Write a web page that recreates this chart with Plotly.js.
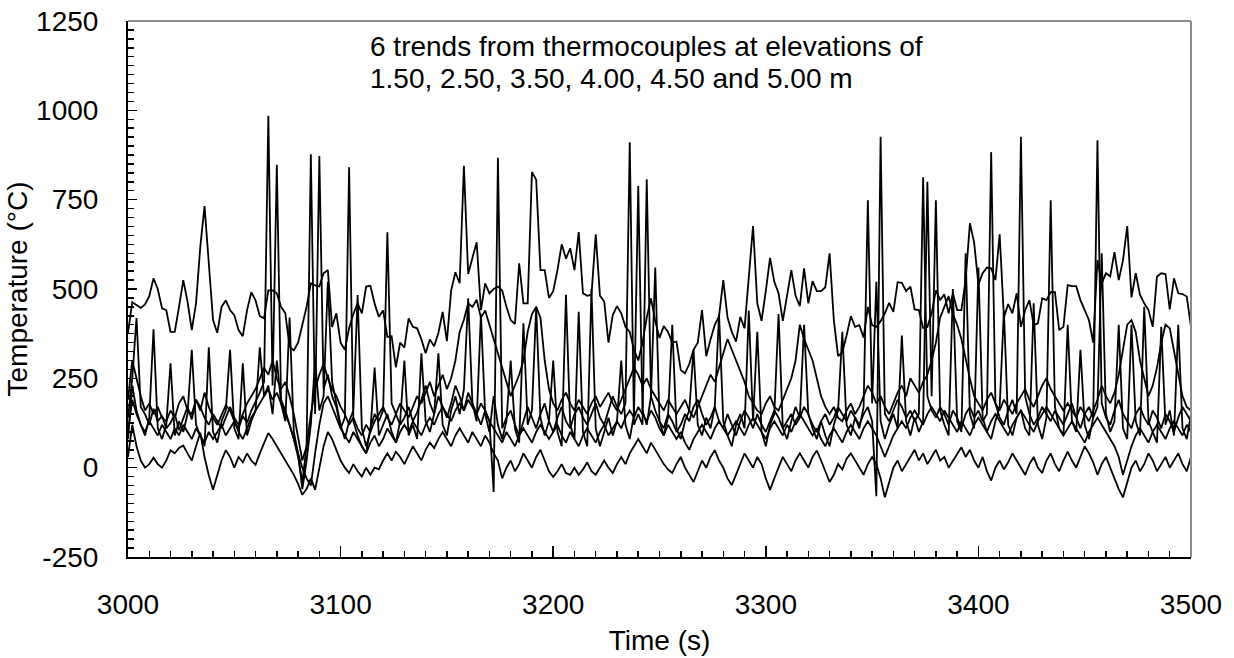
<!DOCTYPE html>
<html>
<head>
<meta charset="utf-8">
<script src="https://cdn.plot.ly/plotly-3.0.1.min.js"></script>
<style>
  html, body { margin: 0; padding: 0; background: #ffffff; }
  #chart { width: 1234px; height: 658px; }
</style>
</head>
<body>
<div id="chart"></div>
<script>
// Thermocouple temperature records, sampled every 2 s from 3000 s to 3500 s
const START_TIME = 3000;   // s
const SAMPLE_STEP = 2;     // s

// Upper trace (hot gas layer)
const tcA = [
  377,463,455,447,457,480,530,500,446,441,
  380,380,450,525,465,385,460,618,732,560,
  413,377,450,468,441,427,385,368,441,491,
  468,424,418,496,496,488,450,432,338,328,
  350,400,450,516,510,507,544,553,394,432,
  350,330,390,430,460,432,507,509,459,422,
  440,366,368,281,350,336,418,394,390,359,
  320,359,340,377,436,354,496,547,516,845,
  542,587,631,441,516,488,500,507,496,450,
  413,402,572,460,460,827,806,553,553,475,
  494,553,625,585,614,553,659,488,481,484,
  653,481,465,350,427,452,432,394,380,330,
  300,350,420,474,410,363,396,380,350,353,
  273,264,290,330,350,441,312,359,400,424,
  525,420,380,353,422,390,534,676,460,411,
  494,587,520,488,411,488,553,481,452,558,
  460,522,494,494,505,600,413,312,323,370,
  424,394,399,364,450,399,394,410,432,461,
  436,519,517,494,507,443,441,391,394,432,
  496,470,485,432,488,441,441,525,684,630,
  513,544,560,558,525,653,420,458,432,488,
  394,441,469,399,404,474,469,491,491,385,
  394,511,508,508,469,441,413,350,581,516,
  544,535,603,525,580,676,477,544,484,460,
  441,394,535,544,542,443,530,488,486,479,
  394
];

// Trace with the tallest flame spikes
const tcB = [
  140,250,419,170,150,120,165,130,145,110,
  125,150,105,140,170,135,190,160,210,170,
  140,120,150,175,160,130,110,145,125,160,
  185,210,240,985,230,848,190,160,120,80,
  30,-40,60,877,150,872,220,260,200,170,
  110,140,841,130,90,60,40,110,150,130,
  160,659,180,150,120,140,170,130,155,190,
  230,180,150,200,170,140,180,230,200,160,
  210,180,150,120,160,130,-68,867,110,140,
  160,120,90,130,170,140,110,150,180,130,
  100,140,170,130,110,150,170,140,120,150,
  180,140,120,160,200,170,150,180,911,120,
  150,120,807,200,160,130,110,150,130,100,
  120,150,130,170,190,150,120,140,170,130,
  110,150,120,90,130,160,140,110,150,120,
  100,130,160,140,110,130,150,120,140,170,
  150,120,100,130,150,120,140,170,150,130,
  160,140,120,150,170,130,-80,926,150,130,
  160,190,170,140,160,130,150,813,200,160,
  140,170,150,120,160,140,110,150,170,140,
  160,130,150,883,180,140,120,160,190,150,
  926,200,150,120,140,170,150,130,160,140,
  120,150,180,140,110,150,170,140,916,180,
  140,120,160,190,150,130,110,150,170,140,
  120,160,140,110,150,130,100,140,170,150,
  130
];

// Trace with frequent medium spikes
const tcC = [
  80,230,160,120,90,140,387,110,80,120,
  292,90,130,100,150,330,120,90,60,337,
  100,70,130,160,330,110,80,292,90,130,
  160,337,200,230,150,300,180,130,420,100,
  40,-60,20,120,300,160,200,520,240,180,
  120,80,130,160,483,110,60,100,280,90,
  120,150,100,70,130,300,90,120,80,320,
  130,100,150,320,120,90,160,200,150,220,
  474,180,130,430,150,100,200,120,80,130,
  300,110,70,404,120,160,450,140,90,130,
  300,100,60,484,120,80,436,100,60,500,
  110,60,100,140,90,130,300,120,80,150,
  788,160,120,200,560,130,90,140,400,110,
  80,130,160,330,120,90,140,110,170,430,
  130,90,60,120,150,110,440,130,380,100,
  60,120,150,430,110,80,130,170,140,400,
  150,110,80,130,90,60,120,160,380,120,
  90,140,110,170,748,180,520,130,80,120,
  150,110,370,130,90,140,100,130,800,200,
  748,160,120,90,500,130,100,600,150,110,
  560,140,100,80,130,170,440,120,90,140,
  160,110,90,460,120,80,140,748,170,110,
  90,400,130,100,330,120,80,140,170,600,
  150,100,130,400,110,80,400,130,90,450,
  130,100,70,394,120,160,90,400,110,80,
  150
];

// Middle trace with slower excursions
const tcD = [
  190,300,250,200,160,180,150,170,140,130,
  160,140,180,200,160,150,190,170,140,120,
  150,130,110,140,170,140,120,150,180,200,
  220,250,280,260,300,250,220,240,200,150,
  80,20,60,150,220,260,290,250,220,200,
  170,150,120,140,110,90,120,100,130,150,
  170,140,120,150,180,160,140,170,200,180,
  210,240,200,230,260,220,250,300,380,414,
  460,450,470,420,440,400,360,320,280,240,
  200,230,260,300,380,430,450,420,300,220,
  180,160,190,210,180,160,190,170,150,180,
  200,170,190,210,180,160,190,220,250,280,
  260,230,250,220,200,180,160,190,170,150,
  170,190,160,140,170,200,230,260,240,280,
  320,360,330,300,270,240,200,180,160,150,
  180,200,170,160,190,220,250,300,400,360,
  330,300,250,200,170,150,170,140,130,160,
  180,150,170,200,230,210,180,200,170,150,
  180,210,230,200,250,230,210,240,260,300,
  350,420,450,480,430,400,360,300,250,200,
  180,160,190,210,180,160,190,170,150,180,
  200,220,190,170,200,230,250,220,200,180,
  160,180,160,140,170,150,130,160,190,230,
  200,180,210,260,330,400,413,380,300,250,
  200,230,280,350,400,390,330,260,200,170,
  160
];

// Lower-middle trace
const tcE = [
  100,190,150,120,100,130,110,90,120,100,
  80,110,90,120,100,80,110,90,70,100,
  80,100,120,90,110,130,100,80,110,140,
  160,180,200,220,190,210,180,150,120,80,
  40,0,-30,-50,40,120,180,200,170,140,
  110,90,70,100,80,60,40,70,90,60,
  80,110,90,70,100,120,100,130,110,90,
  120,140,120,150,170,150,130,160,180,160,
  190,170,150,180,160,130,110,90,70,100,
  80,60,90,110,90,70,100,120,100,80,
  100,120,90,70,100,80,60,90,110,90,
  70,100,120,90,110,130,110,140,160,140,
  170,150,130,160,140,110,90,120,100,80,
  100,70,50,80,100,120,100,80,110,130,
  110,90,110,130,110,90,120,140,120,100,
  80,110,130,110,90,120,100,130,150,130,
  110,90,110,80,60,90,110,90,70,100,
  120,100,80,110,130,110,90,60,30,60,
  90,110,130,110,140,160,140,120,150,170,
  150,130,160,140,120,100,130,110,90,120,
  140,120,100,130,150,130,110,90,120,140,
  160,140,120,100,130,150,170,150,130,110,
  90,110,130,110,90,70,100,120,140,120,
  100,80,60,30,-20,20,60,90,110,90,
  70,100,120,100,80,110,130,110,90,120,
  100
];

// Lowest trace
const tcF = [
  30,120,60,20,0,10,28,10,0,20,
  49,40,55,62,40,20,60,98,30,-21,
  -62,-20,20,49,30,0,30,15,40,20,
  8,40,70,97,80,60,40,20,0,-20,
  -45,-76,-60,-30,-62,0,60,100,80,50,
  20,0,-15,10,-10,-25,0,-20,0,-5,
  20,40,20,45,30,10,35,60,40,20,
  50,70,55,80,100,80,60,90,110,90,
  70,100,80,60,90,70,40,20,-30,0,
  20,-10,10,40,20,0,30,50,20,-10,
  -26,-10,10,-15,-20,0,-20,-5,15,-10,
  -20,0,20,0,-15,10,30,10,40,60,
  80,60,40,70,50,30,10,-5,-15,10,
  30,0,-20,-40,-10,20,0,30,49,20,
  0,-30,-49,-20,10,40,20,0,30,10,
  -30,-62,-30,0,30,10,-10,20,40,20,
  0,30,48,20,-10,-40,-20,10,-5,25,
  40,20,0,-20,10,30,10,-30,-83,-40,
  0,20,-10,10,30,50,20,40,10,30,
  50,20,30,0,20,40,57,30,50,20,
  0,30,-10,-36,0,20,-5,15,40,20,
  0,-20,10,30,0,-15,20,40,10,-10,
  20,45,20,0,30,60,40,15,-20,10,
  30,0,-30,-60,-83,-40,0,20,-10,10,
  40,20,-10,10,30,0,20,40,10,-10,
  30
];

const seriesList = [tcA, tcB, tcC, tcD, tcE, tcF];

// Axis tick values and their printed labels (plain hyphen for negatives)
const yTickVals = [-250, 0, 250, 500, 750, 1000, 1250];
const yTickText = ["-250", "0", "250", "500", "750", "1000", "1250"];
const xTickVals = [3000, 3100, 3200, 3300, 3400, 3500];
const xTickText = ["3000", "3100", "3200", "3300", "3400", "3500"];

const noteLines = [
  "6 trends from thermocouples at elevations of",
  "1.50, 2.50, 3.50, 4.00, 4.50 and 5.00 m"
];

const FONT = "Liberation Sans, Arial, sans-serif";
const TXT = { family: FONT, size: 28, color: "#000000" };

const traces = seriesList.map(function (vals) {
  return {
    type: "scatter",
    mode: "lines",
    x0: START_TIME,
    dx: SAMPLE_STEP,
    y: vals,
    line: { color: "#000000", width: 1.8 },
    hoverinfo: "skip",
    showlegend: false
  };
});

const layout = {
  width: 1234,
  height: 658,
  margin: { l: 128, r: 43, t: 21, b: 101, pad: 0 },
  paper_bgcolor: "#ffffff",
  plot_bgcolor: "#ffffff",
  font: TXT,
  showlegend: false,
  xaxis: {
    range: [3000, 3500],
    tickmode: "array",
    tickvals: xTickVals,
    ticktext: xTickText,
    ticks: "inside",
    ticklen: 11,
    tickwidth: 1.5,
    tickcolor: "#000000",
    minor: { dtick: 10, tick0: 3000, ticks: "inside", ticklen: 6, tickwidth: 1.5, tickcolor: "#000000", showgrid: false },
    showline: true,
    linecolor: "#000000",
    linewidth: 2,
    showgrid: false,
    zeroline: false,
    ticklabelstandoff: 21,
    tickfont: TXT,
    title: { text: "Time (s)", font: TXT, standoff: 12 },
    automargin: false,
    fixedrange: true
  },
  yaxis: {
    range: [-250, 1250],
    tickmode: "array",
    tickvals: yTickVals,
    ticktext: yTickText,
    ticks: "inside",
    ticklen: 9,
    tickwidth: 1.5,
    tickcolor: "#000000",
    minor: { dtick: 25, tick0: 0, ticks: "inside", ticklen: 6, tickwidth: 1.5, tickcolor: "#000000", showgrid: false },
    showline: true,
    linecolor: "#000000",
    linewidth: 2,
    showgrid: false,
    zeroline: false,
    ticklabelstandoff: 22,
    tickfont: TXT,
    title: { text: "Temperature (°C)", font: TXT, standoff: 0 },
    automargin: false,
    fixedrange: true
  },
  shapes: [
    { type: "line", xref: "paper", yref: "paper", x0: 0, x1: 1, y0: 1, y1: 1,
      line: { color: "#8c8c8c", width: 2 } },
    { type: "line", xref: "paper", yref: "paper", x0: 1, x1: 1, y0: 0, y1: 1,
      line: { color: "#8c8c8c", width: 2 } }
  ],
  annotations: [
    { xref: "paper", yref: "paper", x: 0.2258, y: 0.9515, xanchor: "left", yanchor: "middle",
      text: noteLines[0], showarrow: false, align: "left", font: TXT },
    { xref: "paper", yref: "paper", x: 0.2258, y: 0.8918, xanchor: "left", yanchor: "middle",
      text: noteLines[1], showarrow: false, align: "left", font: TXT }
  ]
};

Plotly.newPlot("chart", traces, layout, { staticPlot: true, displayModeBar: false });
</script>
</body>
</html>
